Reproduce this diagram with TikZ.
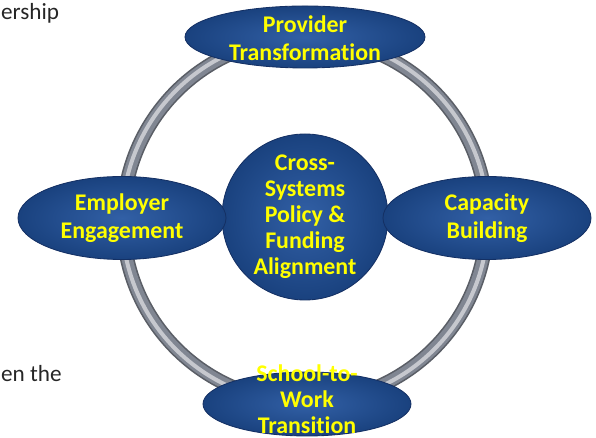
\documentclass[tikz,border=0pt]{standalone}
\usepackage{fontspec}
\setmainfont[RawFeature=-liga]{Carlito}
\usepackage{tikz}
\usetikzlibrary{shapes.geometric, positioning}

\definecolor{hubblue}{RGB}{32,82,158}
\definecolor{hubedge}{RGB}{20,48,100}
\definecolor{hubyellow}{RGB}{255,255,0}
\definecolor{ringgray}{RGB}{128,134,146}

\tikzset{
    hub/.style={
        ellipse, draw=hubedge, line width=0.6pt, inner sep=0pt, shading=radial, inner color=hubblue!92!white, outer color=hubblue!80!black
    },
    hubtext/.style={
        text=hubyellow, font=\fontsize{17}{20}\selectfont\bfseries, align=center
    },
    pagetext/.style={
        font=\fontsize{16.5}{20}\selectfont, text=black!85, inner sep=0pt, anchor=base west
    }
}

\begin{document}
\begin{tikzpicture}

    \useasboundingbox (0,0) rectangle (14.9,10.95);

    % Page text cut off at the left
    \node[pagetext] (ership) at (0.02,10.45) {ership};
    \node[pagetext] (enthe) at (0.02,1.4) {en the};

    % Ring
    \coordinate (ringcenter) at (7.625,5.45);
    \draw[line width=0.36cm, ringgray!70!black] (ringcenter) circle (4.55cm);
    \draw[line width=0.28cm, ringgray] (ringcenter) circle (4.55cm);
    \draw[line width=0.1cm, ringgray!45!white] (ringcenter) circle (4.57cm);

    % Hub
    \node[hub, circle, minimum size=4.15cm] (policy) at (7.625,5.525) {};
    \node[hubtext, font=\fontsize{17}{18.5}\selectfont\bfseries] (policytext) at (policy) {Cross-\\Systems\\Policy \&\\Funding\\Alignment};

    % Outer ellipses
    \node[hub, minimum width=6cm, minimum height=1.55cm] (provider) at (7.625,10.025) {};
    \node[hubtext] (providertext) at (7.625,10.0) {Provider\\Transformation};

    \node[hub, minimum width=5.2cm, minimum height=2.075cm] (employer) at (3.05,5.5) {};
    \node[hubtext] (employertext) at (employer) {Employer\\Engagement};

    \node[hub, minimum width=5.2cm, minimum height=2.075cm] (capacity) at (12.175,5.5) {};
    \node[hubtext] (capacitytext) at (capacity) {Capacity\\Building};

    \node[hub, minimum width=5.2cm, minimum height=1.6cm] (school) at (7.675,0.85) {};
    \node[hubtext, font=\fontsize{17}{18.5}\selectfont\bfseries] (schooltext) at (7.675,0.975) {School-to-\\Work\\Transition};

\end{tikzpicture}
\end{document}
